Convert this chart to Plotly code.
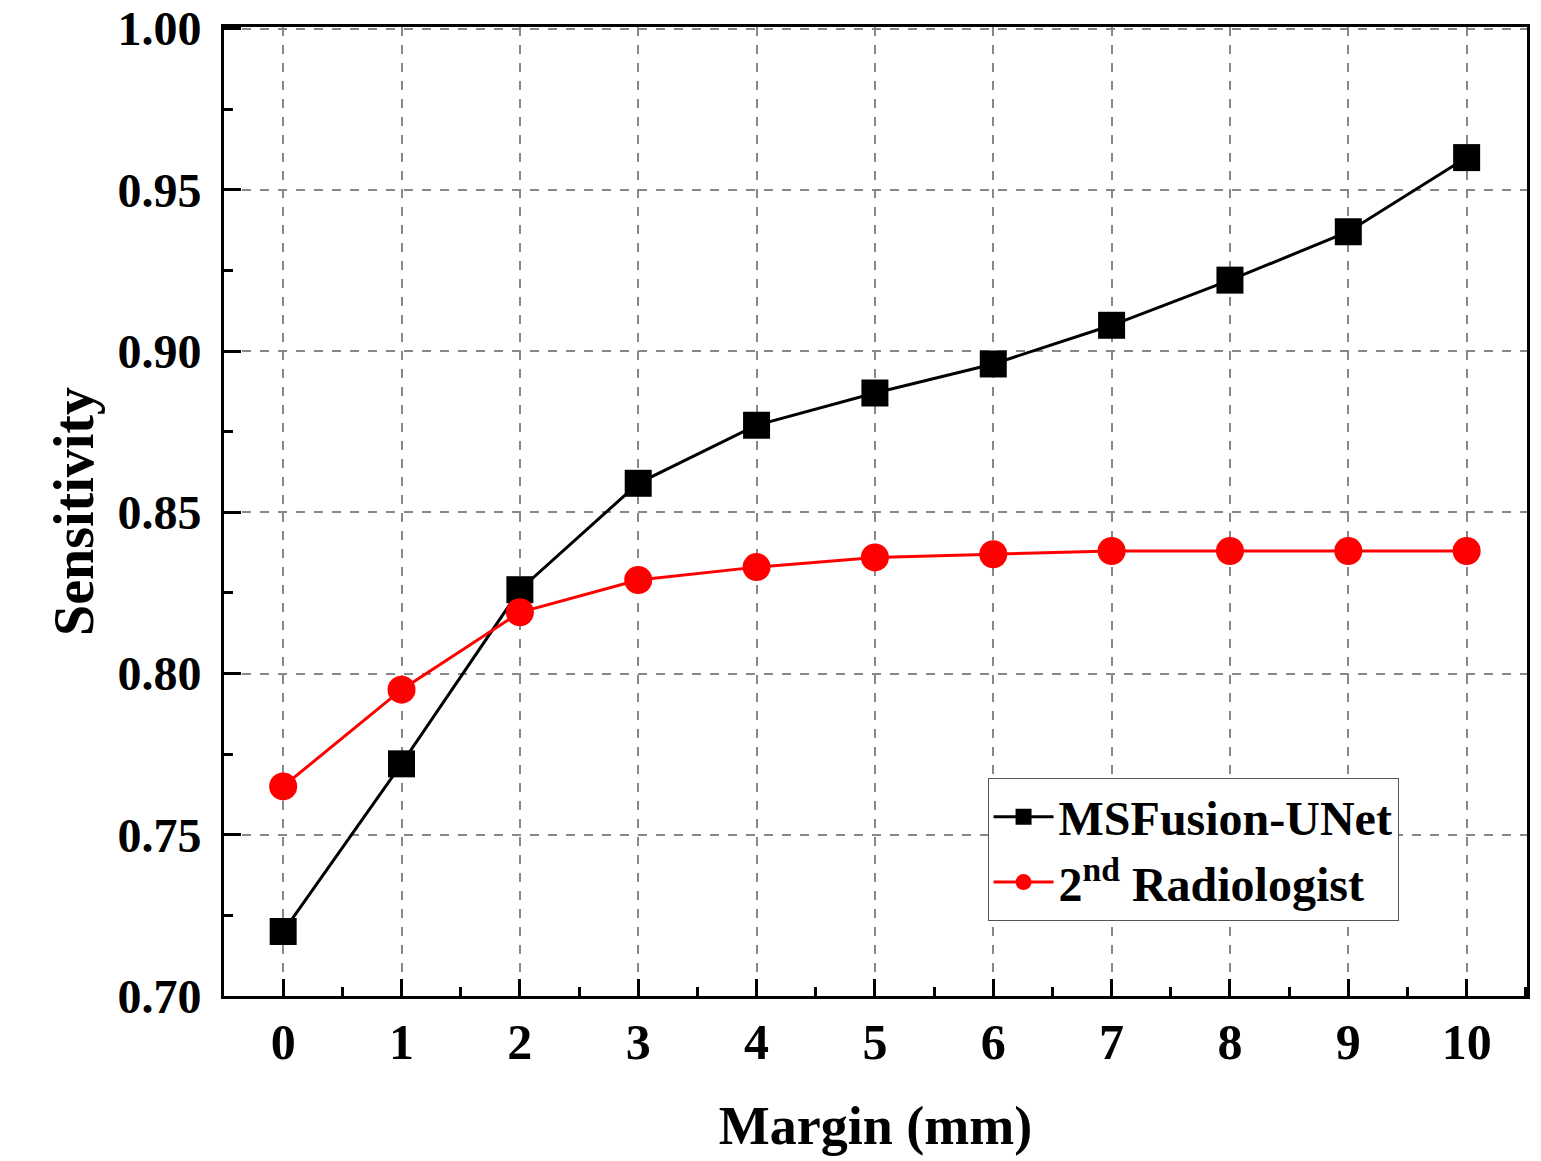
import plotly.graph_objects as go

margin_mm = [0, 1, 2, 3, 4, 5, 6, 7, 8, 9, 10]
msfusion_unet = [0.720, 0.772, 0.826, 0.859, 0.877, 0.887, 0.896, 0.908, 0.922, 0.937, 0.960]
radiologist_2nd = [0.765, 0.795, 0.819, 0.829, 0.833, 0.836, 0.837, 0.838, 0.838, 0.838, 0.838]
y_ticks = [0.70, 0.75, 0.80, 0.85, 0.90, 0.95, 1.00]

FONT = "Liberation Serif"

fig = go.Figure()
fig.add_trace(go.Scatter(
    x=margin_mm, y=msfusion_unet, mode="lines+markers", name="<b>MSFusion-UNet</b>",
    line=dict(color="black", width=3),
    marker=dict(symbol="square", size=27, color="black"),
))
fig.add_trace(go.Scatter(
    x=margin_mm, y=radiologist_2nd, mode="lines+markers", name="<b>2<sup>nd</sup> Radiologist</b>",
    line=dict(color="#ff0000", width=3),
    marker=dict(symbol="circle", size=28, color="#ff0000"),
))

axis_common = dict(
    showline=True, linecolor="black", linewidth=3, mirror=True,
    ticks="inside", ticklen=17, tickwidth=3, tickcolor="black",
    showgrid=True, gridcolor="#888888", griddash="dash", gridwidth=1.5,
    zeroline=False, automargin=False, ticklabeloverflow="allow",
)

fig.update_xaxes(
    **axis_common,
    tickfont=dict(family=FONT, size=50, color="black"),
    range=[-0.5, 10.51], tickmode="array", tickvals=margin_mm,
    ticktext=[f"<b>{v}</b>" for v in margin_mm],
    minor=dict(ticks="inside", ticklen=9, tickwidth=3, tickcolor="black", dtick=0.5, tick0=0.5, showgrid=False),
    ticklabelstandoff=0,
    title=dict(text="<b>Margin (mm)</b>", font=dict(family=FONT, size=54, color="black"), standoff=38),
)
fig.update_yaxes(
    **axis_common,
    tickfont=dict(family=FONT, size=48, color="black"),
    range=[0.70, 1.0005], tickmode="array", tickvals=y_ticks,
    ticktext=[f"<b>{v:.2f}</b>" for v in y_ticks],
    minor=dict(ticks="inside", ticklen=9, tickwidth=3, tickcolor="black", dtick=0.025, tick0=0.725, showgrid=False),
    ticklabelstandoff=10,
    title=dict(text="<b>Sensitivity</b>", font=dict(family=FONT, size=56, color="black"), standoff=6),
)

fig.update_layout(
    width=1541, height=1161,
    margin=dict(l=216, r=22, t=19, b=173),
    paper_bgcolor="white", plot_bgcolor="white",
    font=dict(family=FONT, color="black"),
    legend=dict(
        x=0.586, y=0.225, xanchor="left", yanchor="top",
        bordercolor="#555555", borderwidth=1, bgcolor="white",
        font=dict(family=FONT, size=48, color="black"),
        itemwidth=60, tracegroupgap=0,
    ),
    showlegend=True,
)

fig.write_html("out.html")
